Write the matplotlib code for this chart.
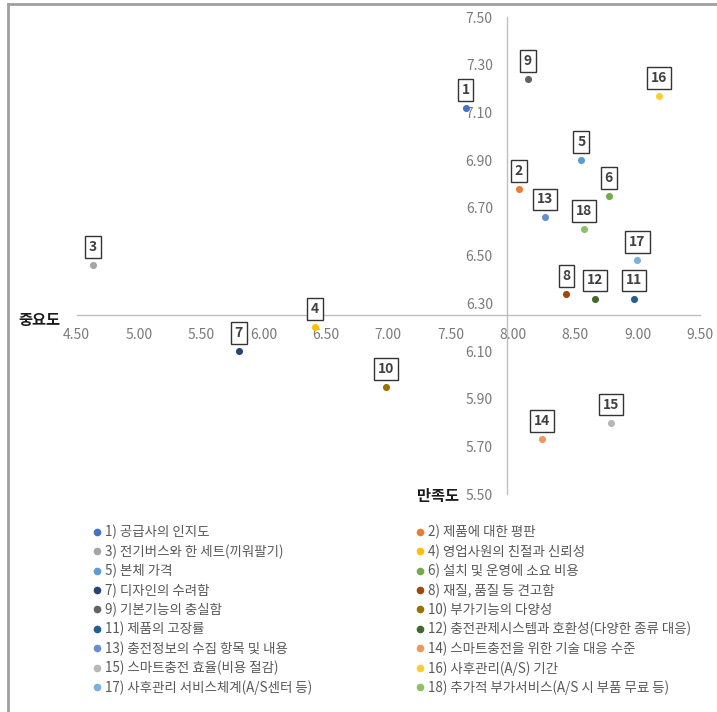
import matplotlib
matplotlib.use("Agg")
import matplotlib.pyplot as plt
from matplotlib.lines import Line2D

plt.rcParams['font.family'] = ['Noto Sans CJK KR', 'DejaVu Sans']

# ---- data ----
ids = list(range(1, 19))
satisfaction = [7.62, 8.05, 4.63, 6.41, 8.55, 8.77, 5.80, 8.43, 8.12,
                6.98, 8.97, 8.66, 8.26, 8.23, 8.79, 9.17, 9.00, 8.57]
importance = [7.12, 6.78, 6.46, 6.20, 6.90, 6.75, 6.10, 6.34, 7.24,
              5.95, 6.32, 6.32, 6.66, 5.73, 5.80, 7.17, 6.48, 6.61]
names = ["공급사의 인지도", "제품에 대한 평판", "전기버스와 한 세트(끼워팔기)",
         "영업사원의 친절과 신뢰성", "본체 가격", "설치 및 운영에 소요 비용",
         "디자인의 수려함", "재질, 품질 등 견고함", "기본기능의 충실함",
         "부가기능의 다양성", "제품의 고장률", "충전관제시스템과 호환성(다양한 종류 대응)",
         "충전정보의 수집 항목 및 내용", "스마트충전을 위한 기술 대응 수준",
         "스마트충전 효율(비용 절감)", "사후관리(A/S) 기간",
         "사후관리 서비스체계(A/S센터 등)", "추가적 부가서비스(A/S 시 부품 무료 등)"]
colors = ["#4472C4", "#ED7D31", "#A5A5A5", "#FFC000", "#5B9BD5", "#70AD47",
          "#264478", "#9E480E", "#636363", "#997300", "#255E91", "#43682B",
          "#698ED0", "#F1975A", "#B7B7B7", "#FFCD33", "#7CAFDD", "#8CC168"]
x_ticks = [4.5, 5.0, 5.5, 6.0, 6.5, 7.0, 7.5, 8.0, 8.5, 9.0, 9.5]
y_ticks = [5.5, 5.7, 5.9, 6.1, 6.3, 6.5, 6.7, 6.9, 7.1, 7.3, 7.5]
x_cross = 7.95
y_cross = 6.25
x_title = "중요도"
y_title = "만족도"

# ---- figure ----
fig = plt.figure(figsize=(7.17, 7.12), dpi=100)
ax = fig.add_axes([0.107, 0.306, 0.869, 0.670])
ax.set_xlim(x_ticks[0], x_ticks[-1])
ax.set_ylim(y_ticks[0], y_ticks[-1])

for s in ['top', 'right']:
    ax.spines[s].set_visible(False)
ax.spines['left'].set_position(('data', x_cross))
ax.spines['bottom'].set_position(('data', y_cross))
for s in ['left', 'bottom']:
    ax.spines[s].set_color('#BFBFBF')
    ax.spines[s].set_linewidth(1.0)

ax.set_xticks(x_ticks)
ax.set_xticklabels([f"{v:.2f}" for v in x_ticks])
ax.set_yticks(y_ticks)
ax.set_yticklabels([f"{v:.2f}" for v in y_ticks])
ax.tick_params(axis='x', length=0, pad=9, labelsize=10, labelcolor='#7A7A7A')
ax.tick_params(axis='y', length=0, pad=10, labelsize=10, labelcolor='#7A7A7A')

handles = []
for i, x, y, c, n in zip(ids, satisfaction, importance, colors, names):
    ax.scatter([x], [y], s=26, color=c, zorder=3, linewidths=0)
    ax.annotate(str(i), (x, y), xytext=(0, 13), textcoords='offset points',
                ha='center', va='center', fontsize=10, fontweight='bold',
                color='#404040', zorder=4,
                bbox=dict(boxstyle='square,pad=0.28', fc='white', ec='#333333', lw=1.0))
    handles.append(Line2D([], [], marker='o', linestyle='none', markersize=4.5,
                          markerfacecolor=c, markeredgecolor=c,
                          label=f"{i}) {n}"))

fig.text(39/717, 1 - 320/712, x_title, ha='center', va='center',
         fontsize=11, fontweight='bold', color='#1A1A1A')
fig.text(438/717, 1 - 496/712, y_title, ha='center', va='center',
         fontsize=11, fontweight='bold', color='#1A1A1A')

leg_kw = dict(frameon=False, fontsize=9.7, labelcolor='#595959', handlelength=0.6,
              handletextpad=0.3, labelspacing=0.36, borderaxespad=0, borderpad=0,
              loc='upper left')
leg1 = fig.legend(handles=handles[0::2], bbox_to_anchor=(93/717, 1 - 525/712), **leg_kw)
leg2 = fig.legend(handles=handles[1::2], bbox_to_anchor=(416/717, 1 - 525/712), **leg_kw)

# chart-area border (top and left edges visible)
fig.add_artist(Line2D([8/717, 1.0], [1 - 4/712, 1 - 4/712], transform=fig.transFigure,
                      color='#A0A0A0', lw=2))
fig.add_artist(Line2D([8/717, 8/717], [0, 1 - 4/712], transform=fig.transFigure,
                      color='#A0A0A0', lw=2))

fig.savefig("out.png", dpi=100)
